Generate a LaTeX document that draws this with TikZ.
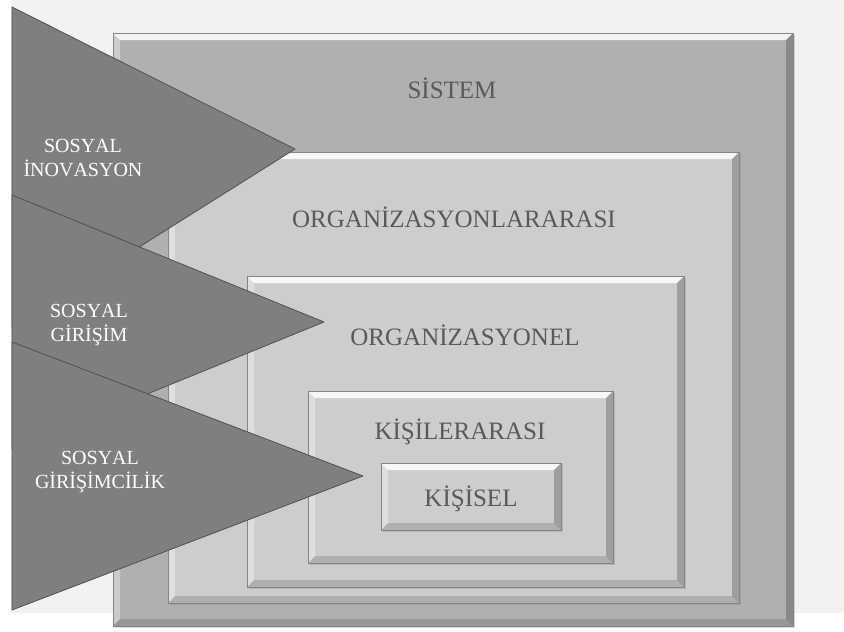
\documentclass[tikz,border=0pt]{standalone}
\usepackage{fontspec}
\setmainfont{Liberation Serif}[Kerning=Off]
\usetikzlibrary{shadows}
\definecolor{bgcol}{HTML}{F2F2F2}
\definecolor{sysfill}{HTML}{B0B0B0}
\definecolor{boxfill}{HTML}{CDCDCD}
\definecolor{edgecol}{HTML}{858585}
\definecolor{trifill}{HTML}{7F7F7F}
\definecolor{triline}{HTML}{505050}
\definecolor{txtcol}{HTML}{595959}

\begin{document}
\begin{tikzpicture}[
    x=1pt, y=-1pt,
    box/.style={rectangle, draw=edgecol, line width=0.8pt, fill=boxfill, inner sep=0pt,
        drop shadow={shadow xshift=1.5pt, shadow yshift=-2pt, opacity=0.3},
        path picture={
            \fill[white, opacity=0.85] (path picture bounding box.north west) -- (path picture bounding box.north east)
                -- ([shift={(-7pt,-7pt)}]path picture bounding box.north east) -- ([shift={(7pt,-7pt)}]path picture bounding box.north west) -- cycle;
            \fill[white, opacity=0.35] (path picture bounding box.north west) -- ([shift={(7pt,-7pt)}]path picture bounding box.north west)
                -- ([shift={(7pt,7pt)}]path picture bounding box.south west) -- (path picture bounding box.south west) -- cycle;
            \fill[black, opacity=0.22] (path picture bounding box.north east) -- (path picture bounding box.south east)
                -- ([shift={(-7pt,7pt)}]path picture bounding box.south east) -- ([shift={(-7pt,-7pt)}]path picture bounding box.north east) -- cycle;
            \fill[black, opacity=0.14] (path picture bounding box.south west) -- (path picture bounding box.south east)
                -- ([shift={(-7pt,7pt)}]path picture bounding box.south east) -- ([shift={(7pt,7pt)}]path picture bounding box.south west) -- cycle;
        }},
    boxlabel/.style={text=txtcol, font=\fontsize{25}{30}\selectfont, anchor=base, inner sep=0pt},
    arrowtri/.style={fill=trifill, draw=triline, line width=0.8pt, line join=round},
    trilabel/.style={text=white, align=center, font=\fontsize{20}{24}\selectfont, inner sep=0pt}
]
    \useasboundingbox (0,0) rectangle (844,632);
    \fill[bgcol] (11,0) rectangle (844,613);
    \node[box, fill=sysfill, minimum width=680pt, minimum height=593pt] (sistem) at (453,329.5) {};
    \node[box, minimum width=571pt, minimum height=451pt] (orgarasi) at (453.5,377.5) {};
    \node[box, minimum width=437pt, minimum height=311pt] (orgnel) at (465.5,431.5) {};
    \node[box, minimum width=305pt, minimum height=172pt] (kisiarasi) at (460.5,477) {};
    \node[box, minimum width=180pt, minimum height=67pt] (kisisel) at (471,496.5) {};
    \node[boxlabel] (sistemtxt) at (452,98) {SİSTEM};
    \node[boxlabel] (orgarasitxt) at (454,227) {ORGANİZASYONLARARASI};
    \node[boxlabel] (orgneltxt) at (465,345) {ORGANİZASYONEL};
    \node[boxlabel] (kisiarasitxt) at (460,439) {KİŞİLERARASI};
    \node[boxlabel] (kisiseltxt) at (471,506) {KİŞİSEL};
    \filldraw[arrowtri] (12,7) -- (295,149) -- (12,327) -- cycle;
    \filldraw[arrowtri] (12,195) -- (324,322) -- (12,449) -- cycle;
    \filldraw[arrowtri] (12,342) -- (363,476) -- (12,610) -- cycle;
    \node[trilabel] (inovasyon) at (83,158) {SOSYAL\\İNOVASYON};
    \node[trilabel] (girisim) at (89,325) {SOSYAL\\GİRİŞİM};
    \node[trilabel] (girisimci) at (100,472) {SOSYAL\\GİRİŞİMCİLİK};
\end{tikzpicture}
\end{document}
